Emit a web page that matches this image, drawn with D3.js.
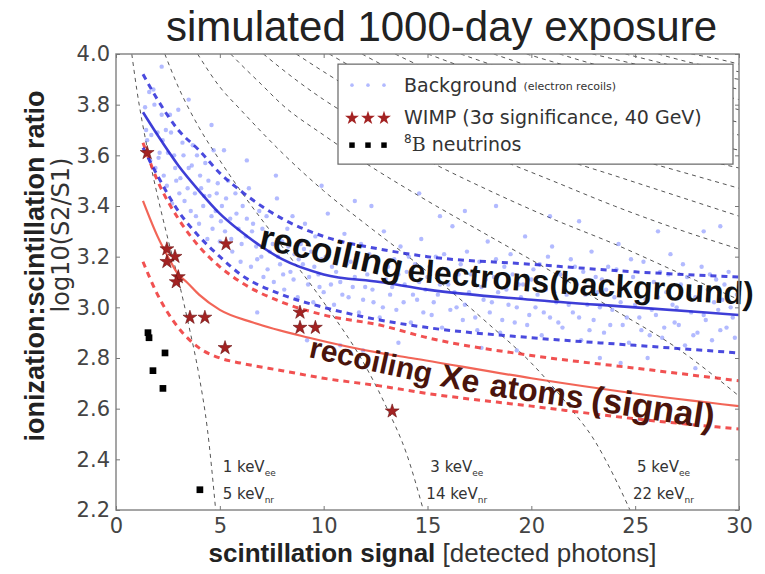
<!DOCTYPE html>
<html>
<head>
<meta charset="utf-8">
<script src="https://cdn.jsdelivr.net/npm/d3@7"></script>
<style>
html, body { margin: 0; padding: 0; background: #fff; overflow: hidden; }
svg { display: block; }
</style>
</head>
<body>
<div id="chart"></div>
<script>
// ---- data ----
const xTicks = [0, 5, 10, 15, 20, 25, 30];
const yTicks = [2.2, 2.4, 2.6, 2.8, 3.0, 3.2, 3.4, 3.6, 3.8, 4.0];

// electron recoil band (median and 90% edges)
const erMedian = [[1.3,3.77],[2,3.68],[3,3.56],[4,3.46],[5,3.37],[6,3.30],[7,3.24],[8,3.19],[10,3.13],[12.7,3.10],[15,3.07],[20,3.03],[25,3.00],[30,2.97]];
const erUpper = [[1.3,3.92],[2,3.82],[3,3.70],[4,3.62],[5,3.53],[6,3.46],[7,3.40],[8,3.35],[10,3.28],[12.7,3.23],[15,3.20],[20,3.17],[25,3.14],[30,3.12]];
const erLower = [[1.3,3.63],[2,3.52],[3,3.38],[4,3.28],[5,3.20],[6,3.13],[8,3.05],[10,3.00],[12.7,2.95],[15,2.92],[20,2.88],[25,2.85],[30,2.82]];

// nuclear recoil band
const nrMedian = [[1.3,3.42],[2,3.28],[2.5,3.20],[3,3.13],[3.4,3.10],[4,3.05],[5,2.99],[6.6,2.94],[9.3,2.88],[12.7,2.82],[14.2,2.80],[20,2.72],[25,2.66],[30,2.61]];
const nrUpper = [[1.3,3.65],[2,3.50],[3,3.35],[4,3.24],[5,3.16],[6,3.10],[8,3.02],[10,2.97],[12.7,2.93],[15,2.88],[20,2.81],[25,2.76],[30,2.71]];
const nrLower = [[1.3,3.18],[2,3.05],[3,2.92],[4,2.84],[5,2.80],[6,2.78],[8,2.75],[10,2.72],[12.7,2.69],[15,2.66],[20,2.61],[25,2.56],[30,2.52]];

// constant-energy contours
const contours = [
  [[0.76,4.0],[1.0,3.86],[1.5,3.63],[2,3.44],[2.5,3.27],[3,3.11],[3.5,2.93],[4,2.73],[4.4,2.52],[4.8,2.2]],
  [[2.35,4.0],[3,3.87],[4,3.71],[5,3.58],[6,3.46],[8,3.24],[10,3.02],[12,2.77],[13,2.61],[14,2.42],[14.8,2.2]],
  [[3.93,4.0],[5,3.87],[6,3.78],[8,3.61],[10,3.46],[12,3.33],[15,3.14],[18,2.93],[20,2.78],[22,2.59],[23,2.48],[24,2.33],[24.75,2.2]],
  [[5.52,4.0],[6,3.96],[7,3.88],[8,3.80],[10,3.68],[12,3.57],[15,3.42],[18,3.28],[21,3.14],[24,2.99],[27,2.84],[30,2.65]],
  [[7.1,4.0],[8,3.94],[10,3.82],[12,3.72],[15,3.58],[18,3.46],[21,3.35],[24,3.25],[27,3.14],[30,3.03]],
  [[8.68,4.0],[10,3.93],[12,3.83],[15,3.71],[18,3.60],[21,3.50],[24,3.40],[27,3.31],[30,3.23]],
  [[10.27,4.0],[12,3.92],[15,3.80],[18,3.70],[21,3.60],[24,3.52],[27,3.44],[30,3.36]],
  [[11.85,4.0],[13,3.95],[15,3.88],[18,3.78],[21,3.69],[24,3.61],[27,3.54],[30,3.47]],
  [[13.44,4.0],[15,3.94],[18,3.85],[21,3.76],[24,3.69],[27,3.61],[30,3.55]],
  [[15.02,4.0],[16,3.97],[18,3.91],[21,3.82],[24,3.75],[27,3.68],[30,3.62]],
  [[16.6,4.0],[18,3.96],[21,3.88],[24,3.81],[27,3.74],[30,3.68]],
  [[18.19,4.0],[20,3.95],[22,3.90],[24,3.86],[27,3.79],[30,3.73]],
  [[19.77,4.0],[21,3.97],[24,3.90],[27,3.84],[30,3.78]],
  [[21.36,4.0],[23,3.96],[25,3.92],[27,3.88],[30,3.82]],
  [[22.94,4.0],[25,3.96],[27,3.92],[30,3.86]],
  [[24.53,4.0],[26,3.97],[28,3.93],[30,3.90]],
  [[26.11,4.0],[28,3.96],[30,3.93]],
  [[27.7,4.0],[29,3.98],[30,3.96]]
];
const eeLabels = ["1", "3", "5"];
const nrLabels = ["5", "14", "22"];

// background events (electron recoils)
const background = [
  [1.4,3.79],[1.5,3.66],[1.6,3.85],[1.7,3.68],[1.8,3.86],[1.9,3.55],[2.0,3.69],[2.1,3.61],[2.2,3.76],[2.3,3.52],
  [2.4,3.70],[2.5,3.61],[2.6,3.76],[2.7,3.41],[2.8,3.60],[2.9,3.50],[3.0,3.78],[3.1,3.51],[3.2,3.65],[3.3,3.42],
  [3.5,3.55],[3.6,3.38],[3.7,3.64],[3.8,3.45],[3.9,3.60],[4.0,3.33],[4.1,3.47],[4.2,3.40],[4.3,3.57],[4.4,3.27],
  [4.5,3.44],[4.6,3.36],[4.7,3.62],[4.8,3.38],[4.9,3.49],[5.0,3.26],[5.1,3.40],[5.25,3.30],[5.4,3.50],[5.5,3.35],
  [5.6,3.22],[5.75,3.45],[5.9,3.31],[6.0,3.18],[6.1,3.40],[6.25,3.28],[6.4,3.47],[6.5,3.16],[6.6,3.33],[6.75,3.24],
  [6.9,3.38],[7.0,3.20],[7.1,3.12],[7.25,3.36],[7.4,3.22],[7.5,3.29],[7.6,3.10],[7.75,3.43],[7.9,3.17],[8.0,3.26],
  [8.1,3.07],[8.25,3.31],[8.4,3.14],[8.5,3.36],[8.6,3.21],[8.75,3.04],[8.9,3.25],[9.0,3.17],[9.1,3.33],[9.25,3.09],
  [9.4,3.22],[9.5,3.02],[9.6,3.28],[9.75,3.13],[9.9,3.19],[10.0,3.06],[10.2,3.37],[10.4,3.16],[10.5,3.01],[10.7,3.23],
  [10.8,3.10],[11.0,3.29],[11.2,3.04],[11.3,3.18],[11.5,3.12],[11.7,2.98],[11.8,3.25],[12.0,3.08],[12.2,3.21],[12.4,3.02],
  [12.5,3.14],[12.7,2.96],[12.9,3.30],[13.0,3.11],[13.2,3.05],[13.4,3.19],[13.5,2.99],[13.7,3.24],[13.9,3.09],[14.0,3.14],
  [14.2,2.94],[14.4,3.17],[14.5,3.03],[14.7,3.27],[14.9,3.07],[15.0,3.12],[15.2,2.97],[15.4,3.20],[15.5,3.05],[15.7,2.92],
  [15.9,3.15],[16.0,3.09],[16.2,3.32],[16.4,3.00],[16.5,3.13],[16.7,2.95],[16.9,3.22],[17.0,3.06],[17.2,3.10],[17.4,2.91],
  [17.5,3.18],[17.7,3.03],[17.9,3.26],[18.0,2.98],[18.2,3.12],[18.4,3.06],[18.5,2.90],[18.7,3.16],[18.9,3.01],[19.0,3.21],
  [19.2,2.94],[19.4,3.09],[19.5,3.04],[19.7,3.28],[19.9,2.97],[20.0,3.11],[20.2,3.00],[20.4,3.17],[20.5,2.89],[20.7,3.07],
  [20.9,2.96],[21.0,3.24],[21.2,3.02],[21.4,3.13],[21.5,2.92],[21.7,3.05],[21.9,3.19],[22.0,2.98],[22.2,3.09],[22.4,2.87],
  [22.5,3.14],[22.7,3.01],[22.9,3.22],[23.0,2.95],[23.2,3.06],[23.4,3.11],[23.5,2.90],[23.7,3.16],[23.9,2.99],[24.0,3.04],
  [24.2,3.25],[24.4,2.93],[24.5,3.08],[24.7,2.86],[24.9,3.12],[25.0,3.01],[25.2,2.96],[25.4,3.18],[25.5,3.03],[25.7,2.89],
  [25.9,3.10],[26.0,2.97],[26.2,3.14],[26.4,2.92],[26.5,3.06],[26.7,3.21],[26.9,2.94],[27.0,3.00],[27.2,3.09],[27.4,2.85],
  [27.5,3.12],[27.7,2.98],[27.9,3.04],[28.0,2.90],[28.2,3.16],[28.4,2.95],[28.5,3.07],[28.7,2.87],[28.9,3.11],[29.0,2.99],
  [29.2,3.03],[29.4,2.92],[29.5,3.14],[29.7,2.96],[29.9,3.05],
  [3.5,3.82],[6.3,3.58],[8.8,2.92],[11.5,3.42],[13.6,2.86],[16.8,3.38],[19.3,2.83],[22.3,3.34],[25.6,2.80],[28.3,3.30],
  [10.8,2.85],[5.2,3.62],[18.3,3.40],[24.3,2.78],[14.6,3.45],
  [1.45,3.70],[1.65,3.58],[1.85,3.80],[2.05,3.59],[2.25,3.66],[2.45,3.48],[2.65,3.69],[2.85,3.55],[3.05,3.45],[3.25,3.60],
  [3.45,3.47],[3.65,3.56],[3.85,3.36],[4.05,3.52],[4.25,3.44],[4.45,3.50],[4.65,3.31],[4.85,3.45],[5.05,3.34],[5.3,3.43],
  [5.55,3.27],[5.8,3.37],[6.05,3.25],[6.3,3.35],[6.55,3.30],[6.8,3.19],[7.05,3.31],[7.3,3.15],[7.55,3.25],[7.8,3.20],
  [8.05,3.13],[8.3,3.24],[8.55,3.11],[8.8,3.19],[9.05,3.23],[9.3,3.12],[9.55,3.16],[9.8,3.08],[10.1,3.20],[10.35,3.09],
  [10.6,3.14],[10.9,3.05],[11.1,3.17],[11.4,3.08],[11.6,3.21],[11.9,3.03],[12.1,3.13],[12.35,3.07],[12.6,3.19],[12.85,3.00],
  [13.1,3.16],[13.3,3.08],[13.6,3.13],[13.85,3.02],[14.1,3.20],[14.3,3.05],[14.6,3.10],[14.8,2.98],[15.1,3.16],[15.3,3.02],
  [15.6,3.09],[15.8,3.21],[16.1,2.99],[16.3,3.06],[16.6,3.17],[16.8,3.01],[17.1,3.13],[17.3,2.96],[17.6,3.08],[17.8,3.11],
  [18.1,3.02],[18.3,3.19],[18.6,2.95],[18.8,3.07],[19.1,3.13],[19.3,3.00],[19.6,3.09],[19.8,2.93],[20.1,3.15],[20.3,3.05],
  [20.6,2.98],[20.8,3.20],[21.1,3.06],[21.3,2.94],[21.6,3.10],[21.8,3.01],[22.1,3.16],[22.3,2.96],[22.6,3.05],[22.8,2.91],
  [23.1,3.12],[23.3,3.00],[23.6,3.07],[23.8,2.93],[24.1,3.15],[24.3,3.02],[24.6,2.96],[24.8,3.19],[25.1,3.06],[25.3,2.91],
  [25.6,3.09],[25.8,2.99],[26.1,3.04],[26.3,2.88],[26.6,3.13],[26.8,3.01],[27.1,2.93],[27.3,3.17],[27.6,3.05],[27.8,2.89],
  [28.1,3.08],[28.3,2.97],[28.6,3.13],[28.8,3.02],[29.1,2.91],[29.3,3.09],[29.6,3.00],[29.8,2.88],
  [2.2,3.95],[4.6,3.72],[7.7,3.52],[9.9,3.48],[12.3,3.40],[15.6,3.36],[17.6,2.84],[20.9,3.36],[23.3,2.80],[26.1,3.30],
  [29.1,3.32],[6.8,2.98],[9.2,2.87],[11.9,2.83],[27.9,2.76]
];

// WIMP events
const wimps = [[1.5,3.61],[2.45,3.23],[2.84,3.20],[2.45,3.18],[3.0,3.12],[2.9,3.10],[3.56,2.96],[4.28,2.96],
  [5.3,3.25],[5.25,2.84],[8.86,2.98],[8.86,2.92],[9.6,2.92],[13.3,2.59]];

// 8B neutrino events
const neutrinos = [[1.54,2.90],[1.59,2.88],[2.36,2.82],[1.78,2.75],[2.26,2.68],[4.04,2.28]];

// curved band labels: words and their baseline anchors (last anchor = end of text)
const erWords = ["recoiling", "electrons", "(background)"];
const erAnchors = [[6.84,3.234],[14.0,3.104],[20.85,3.056],[30.77,3.009]];
const nrWords = ["recoiling", "Xe", "atoms", "(signal)"];
const nrAnchors = [[9.24,2.804],[15.55,2.690],[17.95,2.652],[22.82,2.595],[29.56,2.508]];

// ---- layout ----
const width = 765, height = 574;
const margin = { top: 54, right: 26, bottom: 64, left: 116 };
const innerWidth = width - margin.left - margin.right;
const innerHeight = height - margin.top - margin.bottom;
const erSizes = [35, 32, 32];
const nrSizes = [30, 32, 32, 35];

const svg = d3.select("#chart").append("svg")
    .attr("width", width)
    .attr("height", height)
    .style("font-family", "'DejaVu Sans', sans-serif");

const g = svg.append("g")
    .attr("transform", `translate(${margin.left},${margin.top})`);

const xScale = d3.scaleLinear().domain([0, 30]).range([0, innerWidth]);
const yScale = d3.scaleLinear().domain([2.2, 4.0]).range([innerHeight, 0]);

svg.append("defs").append("clipPath").attr("id", "plot-clip")
    .append("rect").attr("width", innerWidth).attr("height", innerHeight);

const plot = g.append("g").attr("clip-path", "url(#plot-clip)");

const line = d3.line()
    .x(d => xScale(d[0]))
    .y(d => yScale(d[1]))
    .curve(d3.curveMonotoneX);

// energy contours
plot.selectAll(".contour")
    .data(contours)
    .join("path")
    .attr("class", "contour")
    .attr("d", line)
    .attr("fill", "none")
    .attr("stroke", "#555")
    .attr("stroke-width", 1)
    .attr("stroke-dasharray", "4,4");

// background scatter
plot.selectAll(".bg")
    .data(background)
    .join("circle")
    .attr("class", "bg")
    .attr("cx", d => xScale(d[0]))
    .attr("cy", d => yScale(d[1]))
    .attr("r", 2.2)
    .attr("fill", "#5566ff")
    .attr("opacity", 0.45);

// band lines
const bands = [
    { data: nrLower, color: "#ee3333", dash: "6,5", w: 3 },
    { data: nrUpper, color: "#ee3333", dash: "6,5", w: 3 },
    { data: erLower, color: "#2a2ad8", dash: "6,5", w: 3 },
    { data: erUpper, color: "#2a2ad8", dash: "6,5", w: 3 },
    { data: nrMedian, color: "#f04a3a", dash: null, w: 2.2 },
    { data: erMedian, color: "#1c1cd0", dash: null, w: 2.6 }
];
bands.forEach(b => {
    plot.append("path")
        .attr("d", line(b.data))
        .attr("fill", "none")
        .attr("stroke", b.color)
        .attr("stroke-width", b.w)
        .attr("stroke-dasharray", b.dash)
        .attr("opacity", 0.85);
});

// WIMP stars
g.selectAll(".wimp")
    .data(wimps)
    .join("path")
    .attr("class", "wimp")
    .attr("transform", d => `translate(${xScale(d[0])},${yScale(d[1])})`)
    .attr("d", d3.symbol(d3.symbolStar).size(60))
    .attr("fill", "#a32222")
    .attr("stroke", "#6a1010")
    .attr("stroke-width", 0.6);

// neutrinos
g.selectAll(".nu")
    .data(neutrinos)
    .join("path")
    .attr("class", "nu")
    .attr("transform", d => `translate(${xScale(d[0])},${yScale(d[1])})`)
    .attr("d", d3.symbol(d3.symbolSquare).size(45))
    .attr("fill", "#000");

// curved labels, one rotated word at a time
function wordLabels(words, anchors, sizes, color) {
    words.forEach((w, i) => {
        const x0 = xScale(anchors[i][0]), y0 = yScale(anchors[i][1]);
        const x1 = xScale(anchors[i + 1][0]), y1 = yScale(anchors[i + 1][1]);
        const angle = Math.atan2(y1 - y0, x1 - x0) * 180 / Math.PI;
        g.append("text")
            .attr("transform", `translate(${x0},${y0}) rotate(${angle})`)
            .attr("fill", color)
            .style("font-family", "'Liberation Sans', Arial, sans-serif")
            .style("font-weight", "bold")
            .style("font-size", sizes[i] + "px")
            .text(w);
    });
}
wordLabels(erWords, erAnchors, erSizes, "#111");
wordLabels(nrWords, nrAnchors, nrSizes, "#4a140c");

// energy labels near the bottom
[0, 1, 2].forEach(i => {
    const last = contours[i][contours[i].length - 1];
    const tx = xScale(last[0]) + 7;
    const t1 = g.append("text").attr("x", tx).attr("y", innerHeight - 38)
        .attr("fill", "#333").style("font-size", "15px");
    t1.append("tspan").text(eeLabels[i] + " keV");
    t1.append("tspan").attr("dy", 4).style("font-size", "9px").text("ee");
    const t2 = g.append("text").attr("x", tx - (i > 0 ? 4 : 0)).attr("y", innerHeight - 11)
        .attr("fill", "#333").style("font-size", "15px");
    t2.append("tspan").text(nrLabels[i] + " keV");
    t2.append("tspan").attr("dy", 4).style("font-size", "9px").text("nr");
});

// frame and ticks
g.append("rect")
    .attr("width", innerWidth)
    .attr("height", innerHeight)
    .attr("fill", "none")
    .attr("stroke", "#888")
    .attr("stroke-width", 1.5);

const xAxis = g.append("g")
    .attr("transform", `translate(0,${innerHeight})`)
    .call(d3.axisBottom(xScale).tickValues(xTicks).tickSize(-4).tickPadding(8).tickFormat(d3.format("d")));
const yAxis = g.append("g")
    .call(d3.axisLeft(yScale).tickValues(yTicks).tickSize(-4).tickPadding(6).tickFormat(d3.format(".1f")));
[xAxis, yAxis].forEach(a => {
    a.select(".domain").remove();
    a.selectAll(".tick line").attr("stroke", "#777");
    a.selectAll(".tick text")
        .attr("fill", "#444")
        .style("font-family", "'DejaVu Sans', sans-serif")
        .style("font-size", "21px");
});
// top and right ticks (no labels)
g.append("g")
    .call(d3.axisTop(xScale).tickValues(xTicks).tickSize(-4))
    .call(a => a.select(".domain").remove())
    .call(a => a.selectAll("text").remove())
    .selectAll("line").attr("stroke", "#777");
g.append("g")
    .attr("transform", `translate(${innerWidth},0)`)
    .call(d3.axisRight(yScale).tickValues(yTicks).tickSize(-4))
    .call(a => a.select(".domain").remove())
    .call(a => a.selectAll("text").remove())
    .selectAll("line").attr("stroke", "#777");

// legend
const legend = g.append("g").attr("transform", `translate(${xScale(10.69)},${yScale(3.96)})`);
legend.append("rect")
    .attr("width", 395).attr("height", 100)
    .attr("fill", "#fff").attr("stroke", "#666").attr("stroke-width", 1.2);
const legendRows = [23, 54, 81];
[0, 1, 2].forEach(j => {
    legend.append("circle").attr("cx", 14 + j * 16).attr("cy", legendRows[0] - 2).attr("r", 1.8)
        .attr("fill", "#5566ff").attr("opacity", 0.45);
    legend.append("path").attr("transform", `translate(${14 + j * 16},${legendRows[1]})`)
        .attr("d", d3.symbol(d3.symbolStar).size(60)).attr("fill", "#a32222");
    legend.append("path").attr("transform", `translate(${14 + j * 16},${legendRows[2]})`)
        .attr("d", d3.symbol(d3.symbolSquare).size(30)).attr("fill", "#000");
});
const lt1 = legend.append("text").attr("x", 66).attr("y", legendRows[0] + 5).attr("fill", "#333").style("font-size", "19px");
lt1.append("tspan").text("Background ");
lt1.append("tspan").style("font-size", "11px").attr("dy", -2).text("(electron recoils)");
legend.append("text").attr("x", 66).attr("y", legendRows[1] + 6).attr("fill", "#333").style("font-size", "19px")
    .text("WIMP (3\u03c3 significance, 40 GeV)");
const lt3 = legend.append("text").attr("x", 66).attr("y", legendRows[2] + 6).attr("fill", "#333").style("font-size", "19px");
lt3.append("tspan").style("font-size", "12px").attr("dy", -8).text("8");
lt3.append("tspan").attr("dy", 8).style("font-family", "'DejaVu Serif', serif").text("B");
lt3.append("tspan").text(" neutrinos");

// title
svg.append("text")
    .attr("x", margin.left + innerWidth / 2 + 14)
    .attr("y", 41)
    .attr("text-anchor", "middle")
    .attr("fill", "#222")
    .style("font-family", "'Liberation Sans', Arial, sans-serif")
    .style("font-size", "42px")
    .text("simulated 1000-day exposure");

// x label
const xl = svg.append("text")
    .attr("x", margin.left + innerWidth / 2 + 5)
    .attr("y", 562)
    .attr("text-anchor", "middle")
    .attr("fill", "#222")
    .style("font-family", "'Liberation Sans', Arial, sans-serif")
    .style("font-size", "26px");
xl.append("tspan").style("font-weight", "bold").text("scintillation signal");
xl.append("tspan").attr("fill", "#333").text(" [detected photons]");

// y labels
svg.append("text")
    .attr("transform", `translate(44,${margin.top + 212}) rotate(-90)`)
    .attr("text-anchor", "middle")
    .attr("fill", "#222")
    .style("font-family", "'Liberation Sans', Arial, sans-serif")
    .style("font-weight", "bold")
    .style("font-size", "27px")
    .text("ionization:scintillation ratio");
svg.append("text")
    .attr("transform", `translate(69,${margin.top + 181}) rotate(-90)`)
    .attr("text-anchor", "middle")
    .attr("fill", "#333")
    .style("font-family", "'DejaVu Sans', sans-serif")
    .style("font-size", "24px")
    .text("log10(S2/S1)");
</script>
</body>
</html>
